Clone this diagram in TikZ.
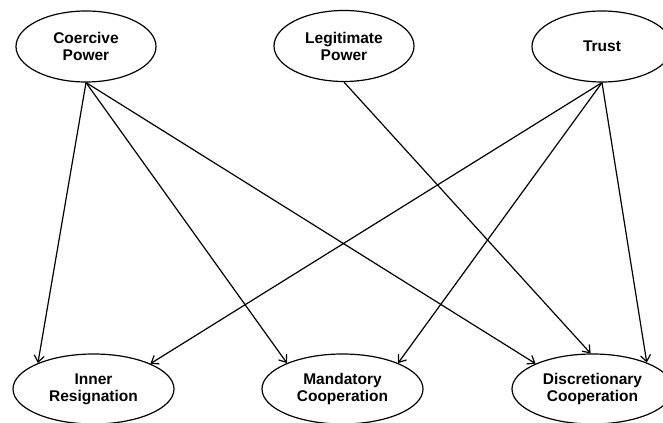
\documentclass[tikz,border=0pt]{standalone}
\usepackage{fontspec}
\setmainfont{Liberation Sans}
\usetikzlibrary{shapes.geometric,arrows.meta}
\tikzset{
  factor/.style={draw, ellipse, inner sep=0pt, minimum width=140bp, minimum height=71bp,
    align=center, font=\bfseries\fontsize{15.5bp}{17bp}\selectfont},
  outcome/.style={factor, minimum width=161bp, minimum height=70bp},
}
\begin{document}
\begin{tikzpicture}[>={Straight Barb[length=6.5bp,width=10bp]},line join=bevel,]
  \pgfsetlinewidth{1.2bp}
  \useasboundingbox (0bp,0bp) rectangle (663bp,423bp);
%%
  % Node: Coercive
  \node [factor] (coercive) at (86bp,376.5bp) {Coercive\\Power};
  % Node: Legitimate
  \node [factor] (legitimate) at (344bp,377bp) {Legitimate\\Power};
  % Node: Trust
  \node [factor] (trust) at (602bp,376.5bp) {Trust};
  % Node: Inner
  \node [outcome] (inner) at (93.5bp,34bp) {Inner\\Resignation};
  % Node: Mandatory
  \node [outcome] (mandatory) at (342.5bp,34bp) {Mandatory\\Cooperation};
  % Node: Discretionary
  \node [outcome] (discretionary) at (592.5bp,34bp) {Discretionary\\Cooperation};
  % Edge: Coercive -> Inner
  \draw [->] (coercive.south) -- (inner.155);
  % Edge: Coercive -> Mandatory
  \draw [->] (coercive.south) -- (mandatory.155);
  % Edge: Coercive -> Discretionary
  \draw [->] (coercive.south) -- (discretionary.156);
  % Edge: Legitimate -> Discretionary
  \draw [->] (legitimate.south) -- (discretionary.93);
  % Edge: Trust -> Inner
  \draw [->] (trust.south) -- (inner.24);
  % Edge: Trust -> Mandatory
  \draw [->] (trust.south) -- (mandatory.25);
  % Edge: Trust -> Discretionary
  \draw [->] (trust.south) -- (discretionary.26);
%
\end{tikzpicture}
\end{document}
